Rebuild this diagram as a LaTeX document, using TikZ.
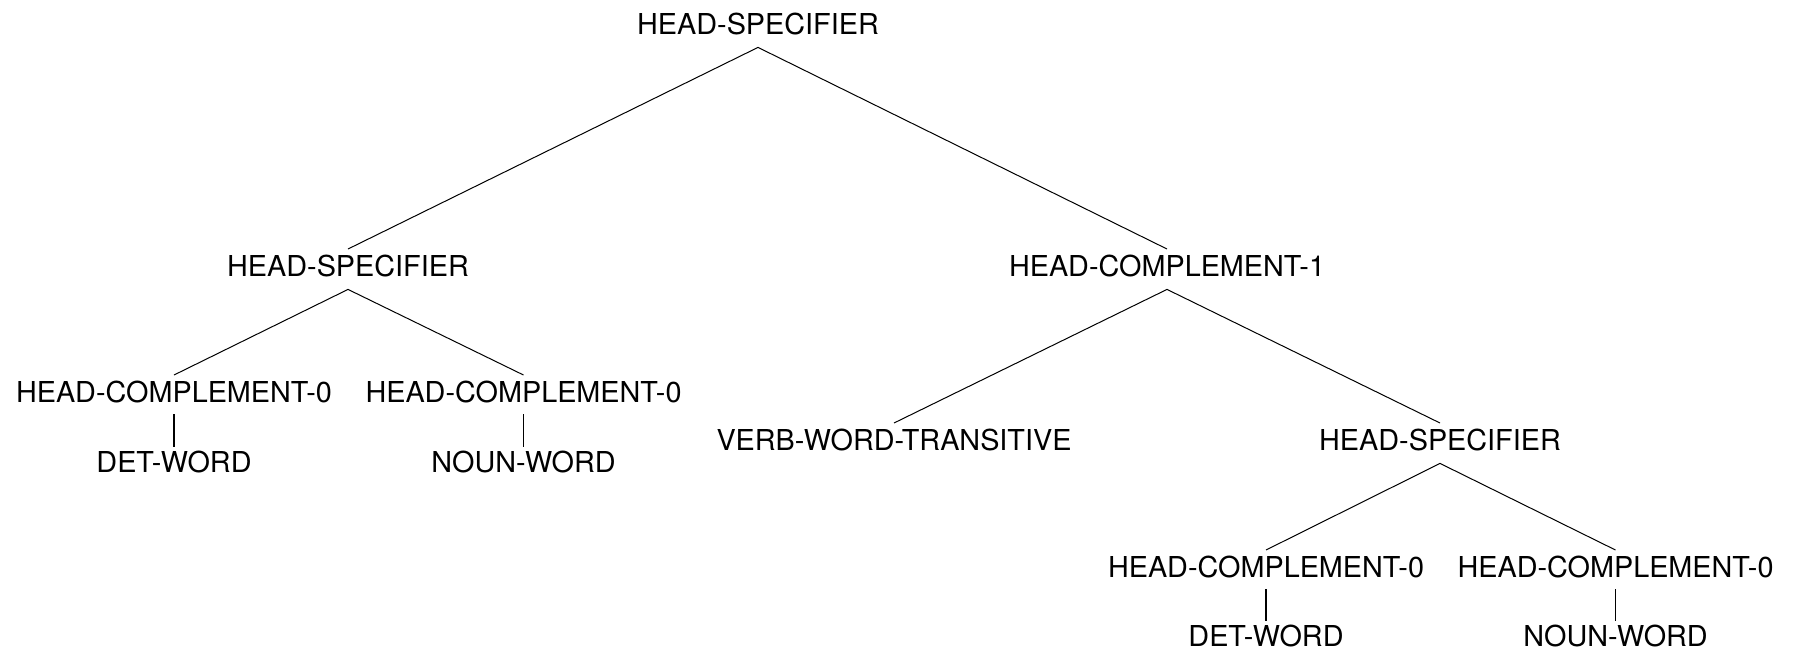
\documentclass[tikz,border=0pt]{standalone}
\usepackage{fontspec}
\setmainfont{TeX Gyre Heros}
\begin{document}
\begin{tikzpicture}[x=0.5pt,y=-0.5pt,
  lab/.style={anchor=base, font=\fontsize{14.4}{17}\selectfont, inner xsep=0pt, inner ysep=3pt, text height=10.3pt, text depth=3.5pt},
  edge/.style={line width=0.5pt},
  vedge/.style={line width=0.9pt, shorten <=-0.5pt, shorten >=-1pt}]
\useasboundingbox (0,0) rectangle (1793,650);
\node[lab] (r) at (758,34) {HEAD-SPECIFIER};
\node[lab] (l) at (348,276) {HEAD-SPECIFIER};
\node[lab] (rr) at (1167,276) {HEAD-COMPLEMENT-1};
\node[lab] (a) at (174,402) {HEAD-COMPLEMENT-0};
\node[lab] (b) at (523.5,402) {HEAD-COMPLEMENT-0};
\node[lab] (ad) at (174,472) {DET-WORD};
\node[lab] (bn) at (523.5,472) {NOUN-WORD};
\node[lab] (v) at (894,450) {VERB-WORD-TRANSITIVE};
\node[lab] (s) at (1440,450) {HEAD-SPECIFIER};
\node[lab] (c) at (1266,577) {HEAD-COMPLEMENT-0};
\node[lab] (d) at (1615.5,577) {HEAD-COMPLEMENT-0};
\node[lab] (cd) at (1266,646) {DET-WORD};
\node[lab] (dn) at (1615.5,646) {NOUN-WORD};
\draw[edge] (l.north) -- (r.south) -- (rr.north);
\draw[edge] (a.north) -- (l.south) -- (b.north);
\draw[vedge] (a.south) -- (ad.north);
\draw[vedge] (b.south) -- (bn.north);
\draw[edge] (v.north) -- (rr.south) -- (s.north);
\draw[edge] (c.north) -- (s.south) -- (d.north);
\draw[vedge] (c.south) -- (cd.north);
\draw[vedge] (d.south) -- (dn.north);
\end{tikzpicture}
\end{document}
